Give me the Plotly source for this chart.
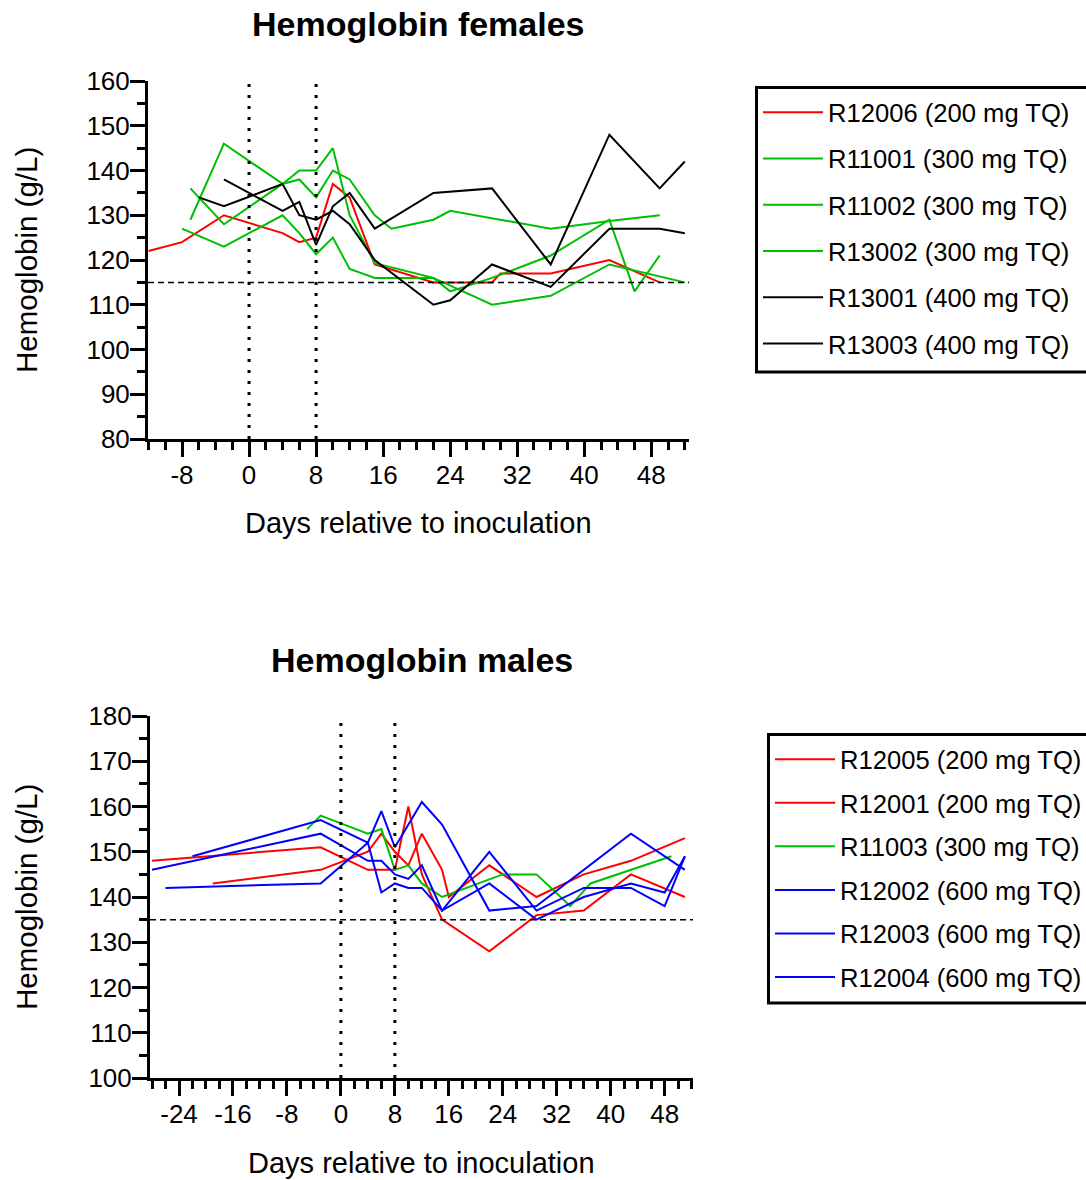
import plotly.graph_objects as go

# ---------------- data: females ----------------
f_names = ["R12006 (200 mg TQ)", "R11001 (300 mg TQ)", "R11002 (300 mg TQ)",
           "R13002 (300 mg TQ)", "R13001 (400 mg TQ)", "R13003 (400 mg TQ)"]
f_colors = ["#FF0000", "#00BF00", "#00BF00", "#00BF00", "#000000", "#000000"]

f_days_R12006 = [-12, -8, -3, 4, 6, 8, 10, 12, 15, 22, 29, 30, 36, 43, 49]
f_hb_R12006 = [122, 124, 130, 126, 124, 125, 137, 134, 119, 115, 115, 117, 117, 120, 115]

f_days_R11001 = [-7, -3, 4, 6, 8, 10, 12, 15, 17, 22, 24, 29, 36, 43, 49]
f_hb_R11001 = [129, 146, 137, 138, 134, 140, 138, 130, 127, 129, 131, 129.4, 127, 128.7, 130]

f_days_R11002 = [-7, -3, 4, 6, 8, 10, 12, 15, 22, 24, 29, 36, 43, 46, 49]
f_hb_R11002 = [136, 128, 137, 140, 140, 145, 130, 119.3, 116, 113, 116, 121, 129, 113, 121]

f_days_R13002 = [-8, -3, 4, 6, 8, 10, 12, 15, 22, 29, 36, 43, 52]
f_hb_R13002 = [127, 123, 130, 126, 121.3, 125, 118, 116, 116, 110, 112, 119, 115]

f_days_R13001 = [-3, 4, 6, 8, 10, 12, 15, 22, 29, 36, 43, 49, 52]
f_hb_R13001 = [138, 131, 133, 123.4, 132, 135, 127, 135, 136, 119, 148, 136, 142]

f_days_R13003 = [-6, -3, 4, 6, 8, 10, 12, 15, 22, 24, 29, 36, 43, 49, 52]
f_hb_R13003 = [134, 132, 137, 130, 129, 131, 128, 120, 110, 111, 119, 114, 127, 127, 126]

f_days = [f_days_R12006, f_days_R11001, f_days_R11002, f_days_R13002, f_days_R13001, f_days_R13003]
f_hb = [f_hb_R12006, f_hb_R11001, f_hb_R11002, f_hb_R13002, f_hb_R13001, f_hb_R13003]
f_lower_limit = 115

# ---------------- data: males ----------------
m_names = ["R12005 (200 mg TQ)", "R12001 (200 mg TQ)", "R11003 (300 mg TQ)",
           "R12002 (600 mg TQ)", "R12003 (600 mg TQ)", "R12004 (600 mg TQ)"]
m_colors = ["#FF0000", "#FF0000", "#00BF00", "#0000FF", "#0000FF", "#0000FF"]

m_days_R12005 = [-19, -3, 4, 6, 8, 10, 12, 15, 16, 22, 29, 36, 43, 51]
m_hb_R12005 = [143, 146, 150, 154, 150, 147, 154, 146, 140, 147, 140, 145, 148, 153]

m_days_R12001 = [-28, -3, 4, 6, 8, 10, 12, 15, 22, 29, 36, 43, 51]
m_hb_R12001 = [148, 151, 146, 146, 146, 160, 145, 135, 128, 136, 137, 145, 140]

m_days_R11003 = [-5, -3, 4, 6, 8, 10, 12, 15, 24, 29, 34, 37, 49]
m_hb_R11003 = [155, 158, 154, 155, 146, 147, 143, 140, 145, 145, 138, 143, 149]

m_days_R12002 = [-28, -3, 4, 6, 8, 10, 12, 15, 22, 29, 36, 43, 48, 51]
m_hb_R12002 = [146, 154, 148, 148, 145, 144, 147, 137, 150, 137, 142, 142, 138, 149]

m_days_R12003 = [-22, -3, 4, 6, 8, 12, 15, 22, 29, 43, 51]
m_hb_R12003 = [149, 157, 152, 159, 151, 161, 156, 137, 138, 154, 146]

m_days_R12004 = [-26, -3, 4, 6, 8, 10, 12, 15, 22, 29, 36, 43, 48, 51]
m_hb_R12004 = [142, 143, 152, 141, 143, 142, 142, 137, 143, 135, 140, 143, 141, 149]

m_days = [m_days_R12005, m_days_R12001, m_days_R11003, m_days_R12002, m_days_R12003, m_days_R12004]
m_hb = [m_hb_R12005, m_hb_R12001, m_hb_R11003, m_hb_R12002, m_hb_R12003, m_hb_R12004]
m_lower_limit = 135

ref_days = [0, 8]
x_tick_vals = [-24, -16, -8, 0, 8, 16, 24, 32, 40, 48]
x_tick_text = ["-24", "-16", "-8", "0", "8", "16", "24", "32", "40", "48"]

# ---------------- figure ----------------
W, H = 1086, 1180
FONT = "Liberation Sans, Arial, sans-serif"

def px_x(p):
    return p / W

def px_y(p):
    return 1 - p / H

fig = go.Figure()

for i, (n, c, d, v) in enumerate(zip(f_names, f_colors, f_days, f_hb)):
    fig.add_trace(go.Scatter(x=d, y=v, mode="lines", name=n,
                             line=dict(color=c, width=2),
                             xaxis="x", yaxis="y", legend="legend",
                             legendgroup="f%d" % i))

for i, (n, c, d, v) in enumerate(zip(m_names, m_colors, m_days, m_hb)):
    fig.add_trace(go.Scatter(x=d, y=v, mode="lines", name=n,
                             line=dict(color=c, width=2),
                             xaxis="x2", yaxis="y2", legend="legend2",
                             legendgroup="m%d" % i))

axis_common = dict(showline=True, linewidth=3, linecolor="black", mirror=False,
                   ticks="outside", ticklen=15, tickwidth=3, tickcolor="black",
                   showgrid=False, zeroline=False,
                   tickfont=dict(family=FONT, size=26, color="black"))

minor_x = dict(dtick=2, tick0=0, ticks="outside", ticklen=8, tickwidth=3, tickcolor="black")
minor_y = dict(dtick=5, tick0=0, ticks="outside", ticklen=8, tickwidth=3, tickcolor="black")

fig.update_layout(
    width=W, height=H,
    margin=dict(l=0, r=0, t=0, b=0, autoexpand=False),
    paper_bgcolor="white", plot_bgcolor="white",
    font=dict(family=FONT, color="black"),
    xaxis=dict(domain=[px_x(148), px_x(689)], range=[-12.06, 52.5], anchor="y",
               tickmode="array", tickvals=x_tick_vals, ticktext=x_tick_text,
               ticklabelstandoff=-4, minor=minor_x, **axis_common),
    yaxis=dict(domain=[px_y(439), px_y(81)], range=[80, 160], anchor="x",
               dtick=10, tick0=0, ticklabelstandoff=-5, minor=minor_y, **axis_common),
    xaxis2=dict(domain=[px_x(150), px_x(693)], range=[-28.3, 52.2], anchor="y2",
                tickmode="array", tickvals=x_tick_vals, ticktext=x_tick_text,
                ticklabelstandoff=-4, minor=minor_x, **axis_common),
    yaxis2=dict(domain=[px_y(1078), px_y(716)], range=[100, 180], anchor="x2",
                dtick=10, tick0=0, ticklabelstandoff=-5, minor=minor_y, **axis_common),
    legend=dict(x=px_x(758), y=px_y(89), xanchor="left", yanchor="top",
                borderwidth=0, bgcolor="rgba(0,0,0,0)",
                font=dict(family=FONT, size=25.6, color="black"),
                tracegroupgap=10, traceorder="grouped", itemwidth=60),
    legend2=dict(x=px_x(770), y=px_y(736), xanchor="left", yanchor="top",
                 borderwidth=0, bgcolor="rgba(0,0,0,0)",
                 font=dict(family=FONT, size=25.6, color="black"),
                 tracegroupgap=7.3, traceorder="grouped", itemwidth=60),
    showlegend=True,
)

shapes = []
for xa, ya, lim in [("x", "y", f_lower_limit), ("x2", "y2", m_lower_limit)]:
    for rd in ref_days:
        shapes.append(dict(type="line", xref=xa, yref=ya + " domain", x0=rd, x1=rd, y0=0, y1=1,
                           line=dict(color="black", width=3, dash="3px,8px"), layer="above"))
    shapes.append(dict(type="line", xref=xa + " domain", yref=ya, x0=0, x1=1, y0=lim, y1=lim,
                       line=dict(color="black", width=1.5, dash="6px,4px"), layer="above"))
# legend frames (extend past the right edge as in the reference)
shapes.append(dict(type="rect", xref="paper", yref="paper",
                   x0=px_x(756.5), x1=px_x(1100), y0=px_y(87.5), y1=px_y(372),
                   line=dict(color="black", width=3), fillcolor="white", layer="below"))
shapes.append(dict(type="rect", xref="paper", yref="paper",
                   x0=px_x(768.5), x1=px_x(1100), y0=px_y(734.5), y1=px_y(1003),
                   line=dict(color="black", width=3), fillcolor="white", layer="below"))
fig.update_layout(shapes=shapes)

annotations = [
    dict(text="<b>Hemoglobin females</b>", x=px_x(418.5), y=px_y(24), xref="paper", yref="paper",
         showarrow=False, xanchor="center", yanchor="middle", font=dict(family=FONT, size=34, color="black")),
    dict(text="<b>Hemoglobin males</b>", x=px_x(421.5), y=px_y(660), xref="paper", yref="paper",
         showarrow=False, xanchor="center", yanchor="middle", font=dict(family=FONT, size=34, color="black")),
    dict(text="Days relative to inoculation", x=px_x(418.5), y=px_y(523), xref="paper", yref="paper",
         showarrow=False, xanchor="center", yanchor="middle", font=dict(family=FONT, size=29, color="black")),
    dict(text="Days relative to inoculation", x=px_x(421.5), y=px_y(1163), xref="paper", yref="paper",
         showarrow=False, xanchor="center", yanchor="middle", font=dict(family=FONT, size=29, color="black")),
    dict(text="Hemoglobin (g/L)", x=px_x(27), y=px_y(260), xref="paper", yref="paper", textangle=-90,
         showarrow=False, xanchor="center", yanchor="middle", font=dict(family=FONT, size=29.5, color="black")),
    dict(text="Hemoglobin (g/L)", x=px_x(27), y=px_y(897), xref="paper", yref="paper", textangle=-90,
         showarrow=False, xanchor="center", yanchor="middle", font=dict(family=FONT, size=29.5, color="black")),
]
fig.update_layout(annotations=annotations)

fig.write_html("out.html", config={"displayModeBar": False},
               post_script="document.body.style.margin='0px';")
